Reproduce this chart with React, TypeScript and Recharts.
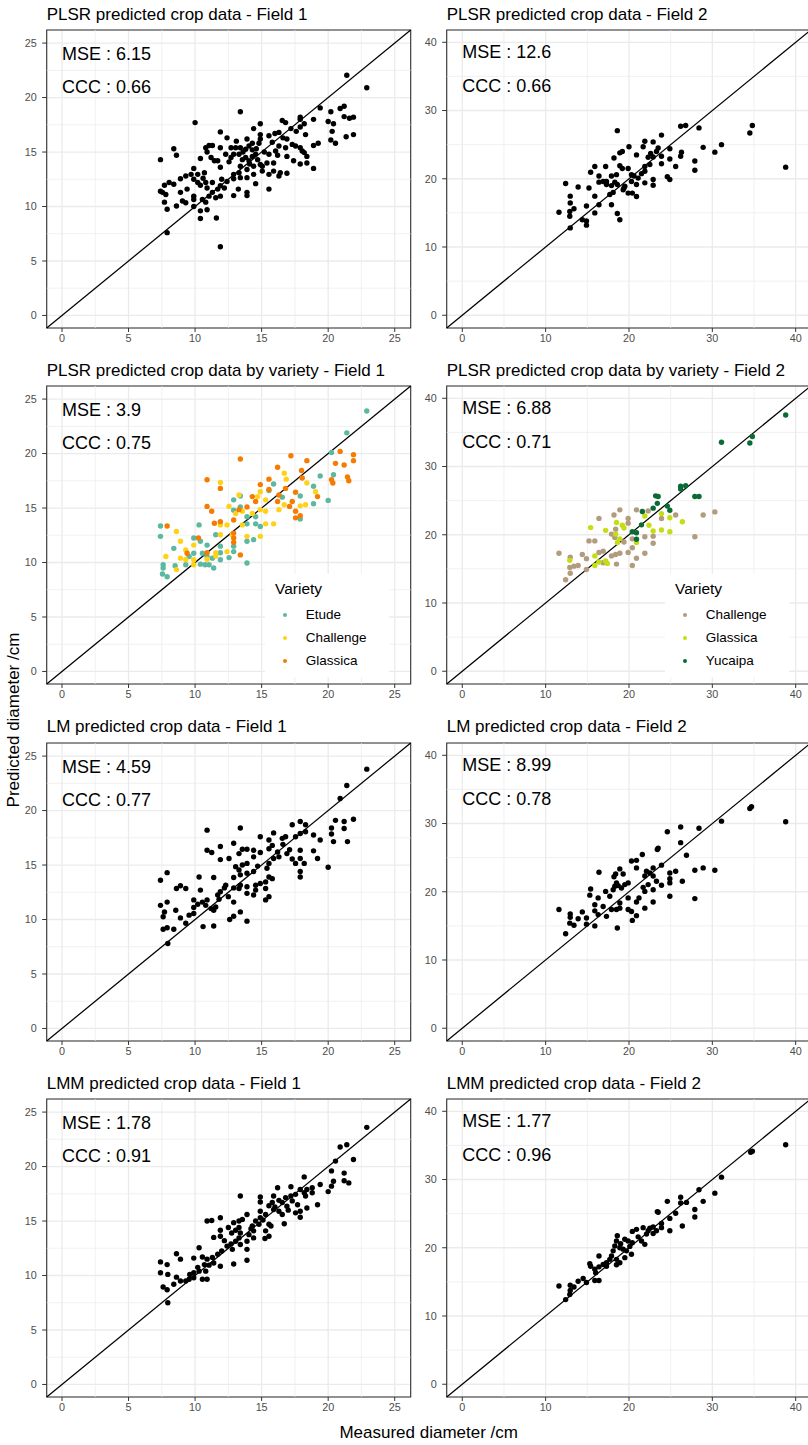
import React from 'react';
import {
  ScatterChart, Scatter, XAxis, YAxis, CartesianGrid, ReferenceLine,
  ReferenceArea, ReferenceDot, Legend,
} from 'recharts';

const FONT = '"Liberation Sans", Arial, Helvetica, sans-serif';

// ---------- axis settings ----------
const F1_TICKS = [0, 5, 10, 15, 20, 25];
const F1_MINOR = [2.5, 7.5, 12.5, 17.5, 22.5];
const F2_TICKS = [0, 10, 20, 30, 40];
const F2_MINOR = [5, 15, 25, 35];
const F1_DOMAIN: [number, number] = [-1.15, 26.2];
const F2_DOMAIN: [number, number] = [-1.87, 41.8];

// ---------- annotations ----------
const MSE = ['6.15', '12.6', '3.9', '6.88', '4.59', '8.99', '1.78', '1.77'];
const CCC = ['0.66', '0.66', '0.75', '0.71', '0.77', '0.78', '0.91', '0.96'];
const TITLES = [
  'PLSR predicted crop data - Field 1',
  'PLSR predicted crop data - Field 2',
  'PLSR predicted crop data by variety - Field 1',
  'PLSR predicted crop data by variety - Field 2',
  'LM predicted crop data - Field 1',
  'LM predicted crop data - Field 2',
  'LMM predicted crop data - Field 1',
  'LMM predicted crop data - Field 2',
];
const VARIETIES_F1 = ['Etude', 'Challenge', 'Glassica'];
const COLORS_F1 = ['#5BB8A1', '#FFD21A', '#F57C00'];
const VARIETIES_F2 = ['Challenge', 'Glassica', 'Yucaipa'];
const COLORS_F2 = ['#B39B7D', '#C4DE14', '#0A6B34'];

// ---------- data: [measured, predicted] ----------
const plsrF1 = [[21.4,22.05],[22.9,20.9],[19.4,19.05],[20.2,18.7],[20.9,19.0],[21.2,19.2],[21.2,18.25],[21.6,18.1],[21.9,18.2],[20.0,17.8],[20.4,17.6],[20.3,16.9],[20.2,16.1],[20.55,15.8],[21.35,16.4],[21.9,16.6],[18.9,18.0],[19.25,15.8],[18.9,15.6],[18.9,13.5],[17.9,18.2],[17.9,18.0],[18.2,17.6],[17.9,17.3],[18.3,16.6],[17.2,17.15],[16.55,17.9],[16.8,17.7],[16.3,16.8],[16.0,16.7],[15.55,16.5],[14.9,17.6],[14.4,17.15],[14.9,16.6],[14.9,16.2],[13.4,18.7],[11.9,16.85],[12.4,16.3],[10.0,17.7],[13.9,16.2],[14.3,15.8],[14.8,15.8],[15.8,15.9],[16.9,16.2],[17.3,15.7],[17.55,15.55],[17.9,15.4],[18.05,15.1],[18.2,14.95],[18.4,14.6],[18.4,14.0],[17.9,13.9],[17.4,14.2],[16.9,14.6],[16.8,15.4],[16.3,15.55],[16.05,15.1],[16.2,14.7],[15.55,14.8],[15.4,14.0],[15.05,13.7],[15.05,13.25],[15.55,12.95],[15.9,13.25],[16.3,12.8],[16.4,13.1],[16.9,13.05],[15.9,14.0],[14.55,14.8],[14.3,15.2],[14.05,15.55],[13.8,15.25],[13.4,15.4],[13.05,15.4],[12.7,15.4],[12.9,14.8],[12.7,14.5],[12.55,14.1],[13.3,14.8],[13.55,14.3],[13.8,14.5],[14.05,14.2],[14.3,14.6],[14.7,14.3],[14.9,13.85],[14.4,13.7],[13.9,13.4],[13.4,13.7],[13.3,13.1],[12.9,12.95],[12.9,12.55],[13.4,12.65],[13.9,12.65],[14.4,12.95],[14.55,12.1],[15.55,11.6],[13.9,11.3],[13.9,11.0],[12.9,11.0],[13.25,11.6],[12.2,11.7],[11.9,11.9],[12.0,12.5],[11.9,13.6],[11.7,14.2],[11.9,15.4],[10.9,15.0],[11.05,15.6],[11.3,15.6],[10.8,15.4],[11.2,14.5],[11.45,14.2],[10.4,14.4],[9.9,13.5],[10.2,12.95],[10.7,13.1],[10.2,12.2],[9.9,12.5],[10.4,11.95],[10.8,12.2],[10.9,11.7],[11.3,12.2],[11.3,11.3],[11.7,11.6],[11.9,10.95],[11.55,10.8],[11.05,10.95],[10.55,10.65],[10.8,10.4],[9.9,10.95],[9.9,10.0],[10.4,9.6],[10.9,9.7],[10.4,8.9],[11.6,8.95],[11.9,6.3],[7.9,7.6],[7.9,9.75],[8.6,10.05],[9.05,10.5],[9.3,10.35],[7.7,10.4],[7.55,11.3],[7.7,11.95],[8.05,12.2],[8.4,12.05],[7.4,11.4],[7.8,11.1],[8.9,12.55],[9.3,12.8],[9.7,12.95],[8.9,11.3],[9.4,11.6],[7.4,14.3],[8.4,15.3],[8.6,14.7],[9.9,10.65],[13.6,15.0],[14.6,15.3],[15.2,15.0],[16.6,16.3],[17.6,16.9],[12.3,14.8],[10.6,12.6],[12.4,12.3],[14.1,13.9],[13.1,16.0]];

const varF1Etude = [[22.9,23.9],[21.4,21.9],[20.25,20.1],[20.4,18.05],[19.4,17.95],[18.9,17.0],[18.9,15.4],[20.0,15.7],[17.9,16.1],[17.9,14.0],[16.55,16.0],[15.9,17.2],[15.55,16.6],[12.9,15.75],[13.4,16.1],[13.4,15.1],[12.9,14.8],[13.9,14.2],[13.9,13.55],[14.55,13.55],[14.9,13.3],[14.55,14.2],[13.9,11.95],[14.4,12.1],[13.9,9.95],[12.9,11.5],[12.9,11.0],[12.55,10.45],[11.9,11.5],[11.9,10.9],[11.55,12.55],[10.9,11.6],[10.4,11.95],[10.3,13.45],[9.9,12.25],[9.9,10.85],[10.55,10.85],[10.9,10.55],[11.3,10.4],[10.4,9.85],[10.75,9.8],[11.05,9.8],[11.4,9.5],[11.9,10.25],[9.55,10.55],[9.3,9.8],[8.4,11.3],[8.5,9.7],[7.4,13.35],[7.4,12.4],[7.6,9.8],[7.6,9.5],[7.55,8.95],[7.9,8.7]];
const varF1Challenge = [[11.9,17.35],[13.3,16.2],[14.9,16.5],[14.7,16.05],[15.3,15.75],[16.7,18.2],[16.85,17.65],[18.4,17.3],[19.05,16.5],[18.3,15.3],[17.9,15.2],[16.3,14.85],[16.7,15.3],[14.9,14.85],[15.3,14.7],[12.55,15.15],[13.05,14.5],[13.55,14.7],[14.3,14.5],[12.4,13.45],[11.9,13.45],[11.9,12.55],[12.8,12.55],[13.9,12.4],[14.9,12.4],[15.3,13.55],[15.9,13.55],[13.55,13.45],[12.4,11.0],[11.55,10.9],[11.55,10.6],[10.9,10.3],[9.9,9.8],[9.9,10.25],[9.3,10.25],[9.3,11.15],[8.9,11.95],[8.6,12.85],[9.9,11.6],[7.8,10.55],[8.6,9.35],[8.9,10.4]];
const varF1Glassica = [[10.9,17.6],[11.9,16.8],[13.4,19.5],[16.2,18.75],[17.2,19.8],[18.4,19.35],[18.0,18.45],[18.05,17.75],[20.9,20.2],[20.55,19.1],[21.2,18.95],[21.9,19.9],[21.9,19.35],[20.25,17.6],[20.35,17.3],[21.45,17.85],[21.55,17.5],[19.2,16.05],[17.55,16.45],[17.3,15.6],[17.1,15.15],[17.55,14.7],[17.9,14.3],[17.55,14.1],[16.3,16.2],[16.2,15.6],[16.8,16.8],[15.55,17.65],[14.9,17.15],[15.55,16.7],[14.3,16.05],[14.55,15.6],[13.9,15.1],[13.3,14.85],[12.9,13.9],[12.9,12.7],[12.9,12.25],[12.9,11.85],[13.4,10.7],[11.9,13.75],[11.45,13.6],[10.9,15.15],[11.25,14.7],[10.25,12.25],[10.9,10.9],[9.4,10.85],[7.9,13.35]];

const lmF1 = [[22.9,23.8],[21.4,22.3],[20.9,21.1],[20.55,19.1],[21.2,19.0],[21.9,19.2],[21.2,18.35],[20.25,18.4],[20.25,17.85],[20.4,17.15],[21.45,17.15],[20.0,14.8],[19.4,17.3],[18.9,17.75],[18.9,16.3],[19.2,15.6],[17.9,19.0],[18.3,18.7],[17.3,18.7],[18.3,18.05],[17.9,17.9],[17.55,17.6],[16.8,17.6],[16.55,17.45],[15.9,17.95],[14.9,17.6],[13.4,18.4],[10.9,18.2],[11.9,16.7],[12.9,17.0],[10.9,16.35],[11.25,16.15],[11.9,15.5],[12.55,15.6],[13.3,16.05],[13.55,16.45],[13.9,16.45],[14.4,16.35],[14.4,15.75],[14.9,16.15],[15.55,16.5],[15.55,17.3],[15.8,16.8],[16.2,16.2],[16.3,15.75],[16.9,16.05],[17.3,15.55],[17.55,15.15],[17.9,16.35],[17.9,15.6],[18.2,15.15],[17.9,14.4],[17.9,13.9],[15.9,15.6],[15.55,15.15],[15.4,14.7],[15.55,13.9],[15.8,13.75],[15.3,13.45],[15.3,12.85],[14.9,13.3],[14.55,13.15],[14.55,12.7],[15.55,12.1],[15.3,11.8],[14.4,12.25],[13.9,12.4],[13.9,13.0],[13.3,12.85],[13.4,13.15],[13.9,14.25],[14.4,14.4],[13.4,14.1],[13.3,14.55],[13.05,14.85],[13.55,15.0],[13.9,15.15],[12.9,13.85],[12.9,12.9],[12.5,12.1],[12.9,11.6],[12.3,13.15],[11.9,12.55],[11.7,12.25],[11.8,11.85],[11.4,13.85],[10.3,13.9],[10.4,12.7],[10.9,11.8],[10.55,11.6],[10.8,11.3],[11.2,11.0],[11.4,10.85],[11.55,11.15],[9.9,11.8],[9.9,11.1],[9.9,10.55],[9.55,10.4],[9.3,9.65],[9.3,12.85],[8.9,13.1],[8.6,12.85],[7.9,14.3],[7.4,13.6],[7.4,11.3],[7.7,10.7],[7.9,11.6],[8.55,10.85],[8.9,10.15],[7.6,10.25],[7.6,9.1],[7.9,9.25],[8.4,9.1],[7.95,7.8],[10.6,9.35],[11.4,9.4],[12.6,10.0],[12.9,10.3],[13.4,10.7],[13.9,9.85],[16.6,16.9],[17.1,16.4],[14.7,14.9],[12.2,12.9],[10.2,11.4]];

const lmmF1 = [[22.9,23.6],[20.9,21.8],[21.4,22.0],[21.9,20.65],[20.55,20.5],[20.25,19.6],[21.2,19.4],[21.2,18.7],[21.55,18.5],[20.4,18.65],[20.25,18.2],[20.0,17.7],[19.4,18.35],[19.2,16.5],[18.2,19.05],[18.8,18.05],[18.8,17.6],[18.4,17.9],[18.3,17.3],[17.9,17.9],[18.2,17.6],[17.2,18.15],[17.55,17.45],[17.2,17.3],[16.8,17.15],[17.3,16.85],[17.7,16.5],[17.9,15.9],[18.4,16.2],[17.55,15.75],[17.9,15.35],[16.2,18.05],[15.9,17.3],[16.3,16.9],[16.55,16.7],[16.9,16.35],[15.8,16.7],[15.55,16.4],[15.9,16.05],[16.3,15.9],[16.55,15.6],[16.7,14.75],[14.9,17.2],[14.9,16.75],[13.4,17.3],[14.9,15.9],[15.3,15.6],[14.9,15.3],[15.55,14.7],[15.7,14.55],[15.3,14.1],[15.55,13.6],[15.25,13.4],[14.8,14.7],[14.55,15.0],[14.3,14.55],[14.4,14.1],[14.4,13.45],[14.05,13.75],[13.9,15.6],[13.55,15.15],[13.3,15.0],[12.9,14.85],[11.9,15.3],[10.9,15.0],[11.25,15.05],[11.9,14.15],[11.9,13.6],[12.5,14.4],[12.75,13.9],[13.05,14.15],[13.3,14.4],[13.4,13.9],[13.3,13.45],[13.05,13.15],[12.7,12.9],[12.4,12.7],[12.8,12.4],[13.4,12.85],[13.9,13.15],[13.9,12.4],[11.4,13.5],[12.0,12.25],[11.7,11.95],[11.3,11.65],[11.4,11.15],[10.9,11.5],[11.05,10.95],[10.55,11.7],[10.3,12.55],[9.9,11.6],[10.7,11.0],[10.3,10.4],[10.8,10.4],[9.9,10.25],[10.2,10.75],[10.55,9.65],[10.9,9.65],[9.9,9.8],[9.55,9.65],[9.3,9.5],[8.9,9.5],[8.6,9.85],[8.4,9.2],[8.9,11.5],[8.6,12.0],[7.9,11.0],[7.95,10.1],[7.4,11.25],[7.4,10.25],[7.6,8.95],[7.9,8.7],[7.95,7.5],[12.9,11.05],[13.9,11.4],[11.9,10.85],[16.0,16.3],[17.0,16.0],[14.2,14.3],[12.2,13.2],[15.1,15.1],[9.6,10.1]];

const plsrF2 = [[38.8,21.7],[34.8,27.8],[34.5,26.7],[31.1,25.0],[30.3,23.9],[28.9,24.6],[28.4,27.45],[26.8,27.8],[26.2,27.7],[27.9,22.6],[27.9,21.25],[26.3,23.9],[26.2,23.3],[24.9,24.4],[24.9,22.9],[25.6,21.8],[24.6,20.3],[24.9,19.9],[23.9,26.4],[22.9,25.4],[21.9,25.5],[21.7,24.7],[23.5,24.5],[23.9,23.3],[22.9,23.2],[22.3,23.15],[22.5,22.1],[21.9,21.8],[23.9,22.2],[21.9,21.1],[21.5,20.75],[20.9,23.5],[20.0,24.7],[19.2,24.0],[18.9,23.8],[18.2,23.05],[18.6,27.05],[18.9,21.9],[19.2,21.5],[19.9,21.5],[20.3,20.6],[20.6,20.4],[21.1,20.1],[20.9,19.15],[20.3,19.6],[21.9,19.4],[22.9,19.9],[22.9,19.05],[19.5,18.9],[19.3,18.4],[19.9,17.9],[20.4,17.9],[20.9,17.4],[18.5,20.6],[18.3,19.5],[18.6,19.15],[17.3,19.6],[17.3,19.15],[16.9,19.6],[16.4,20.4],[16.4,19.5],[17.2,21.8],[15.9,21.8],[15.4,20.95],[17.9,20.4],[17.9,19.0],[17.7,17.7],[18.1,18.0],[17.9,16.2],[16.4,16.2],[15.9,17.45],[14.9,16.0],[15.9,15.0],[13.9,18.8],[12.4,19.3],[12.95,17.45],[12.95,16.45],[13.4,15.6],[12.9,15.2],[12.9,14.5],[11.6,15.1],[12.95,12.8],[14.4,14.0],[14.9,13.8],[14.9,13.2],[15.2,18.65],[18.6,14.9],[18.9,14.0],[19.4,18.65],[23.3,24.0],[22.6,23.7]];

const varF2Challenge = [[30.3,23.35],[28.9,22.9],[27.9,19.7],[25.6,22.9],[23.9,22.4],[20.9,23.65],[22.3,23.5],[18.9,23.65],[18.2,22.9],[16.4,22.4],[19.9,22.4],[19.9,21.7],[18.4,20.8],[17.9,20.1],[18.3,19.6],[19.4,18.95],[20.4,19.4],[20.4,18.1],[19.9,17.4],[18.9,17.3],[18.4,17.1],[17.9,16.9],[16.9,17.6],[16.4,17.4],[15.2,19.1],[15.9,19.1],[14.4,17.1],[14.9,16.5],[12.95,16.7],[11.6,17.3],[12.9,15.2],[13.4,15.4],[13.9,15.5],[12.95,14.35],[12.4,13.4],[14.9,14.9],[18.5,15.7],[20.4,15.5],[20.9,16.55],[21.9,17.3],[22.9,18.75],[22.9,19.8],[21.9,19.7],[16.9,15.9]];
const varF2Glassica = [[15.4,21.05],[17.2,20.65],[18.4,20.1],[19.2,21.4],[18.5,21.8],[18.9,19.4],[18.6,18.85],[20.9,18.85],[21.9,22.75],[22.4,21.4],[22.9,20.55],[23.9,20.7],[23.9,23.1],[24.9,22.5],[24.9,20.45],[26.4,21.9],[15.9,16.9],[15.9,15.5],[16.4,16.0],[17.2,16.15],[17.4,15.8],[12.9,16.25],[19.4,21.0]];
const varF2Yucaipa = [[38.8,37.55],[34.8,34.4],[34.5,33.45],[31.1,33.55],[26.2,27.1],[26.8,27.2],[26.2,26.7],[27.9,25.6],[28.4,25.6],[23.2,25.7],[23.5,25.6],[23.4,24.6],[22.9,23.9],[21.6,23.4],[24.6,24.2],[24.9,23.6],[21.5,21.45],[20.4,20.45],[20.9,20.3],[20.9,19.35]];

const lmF2 = [[38.8,30.25],[34.7,32.45],[34.5,32.2],[31.1,30.35],[28.4,29.3],[26.2,29.5],[24.6,28.8],[26.2,27.2],[26.9,25.35],[28.9,23.5],[27.9,23.15],[27.9,19.0],[30.3,23.15],[26.4,21.55],[25.6,23.0],[24.9,22.75],[24.9,21.9],[24.9,21.3],[24.9,19.35],[23.9,23.9],[23.5,26.4],[23.9,20.95],[22.9,23.5],[22.9,22.3],[23.3,21.55],[22.5,22.75],[22.1,23.0],[21.9,22.3],[22.3,21.05],[21.7,20.65],[21.9,20.05],[22.9,20.3],[22.9,18.5],[21.9,17.6],[21.2,19.1],[20.9,18.5],[20.9,16.5],[20.4,15.8],[19.9,17.4],[20.3,17.1],[21.6,25.45],[20.9,24.6],[20.3,24.5],[20.9,23.5],[19.9,21.3],[19.5,21.05],[19.3,22.6],[18.9,23.35],[18.4,22.6],[18.2,22.2],[18.5,21.3],[18.3,20.8],[18.1,20.3],[19.1,20.55],[19.9,19.1],[18.9,18.35],[18.9,17.6],[18.5,17.4],[17.9,17.4],[17.7,19.35],[17.2,20.05],[16.9,17.85],[17.3,16.4],[16.3,19.1],[16.4,22.85],[15.9,18.1],[15.9,17.2],[16.3,16.65],[15.4,20.4],[15.3,19.5],[14.9,16.15],[14.4,17.05],[14.9,15.25],[15.9,15.0],[13.9,16.05],[12.95,16.75],[12.95,16.25],[12.9,15.4],[13.4,15.1],[11.6,17.4],[12.4,13.85],[18.6,14.7],[18.7,20.9],[23.4,26.2]];

const lmmF2 = [[38.8,35.1],[34.6,34.0],[34.8,34.15],[31.1,30.35],[30.3,28.0],[28.4,28.5],[28.9,26.8],[27.9,25.6],[27.9,24.5],[26.9,26.65],[26.2,27.4],[26.2,26.55],[24.6,26.8],[25.6,25.05],[24.9,24.3],[24.9,22.5],[26.4,23.2],[23.5,25.2],[23.9,23.55],[23.9,22.95],[22.9,23.05],[23.3,22.5],[22.9,22.1],[22.5,22.85],[22.3,22.5],[22.1,22.0],[21.7,22.95],[20.9,22.7],[20.4,22.4],[21.1,21.6],[21.9,20.5],[21.5,21.0],[20.4,20.75],[19.9,21.0],[19.5,21.25],[18.6,21.75],[18.5,21.0],[18.3,20.25],[18.9,20.0],[19.3,19.8],[19.7,19.55],[20.3,19.05],[18.1,19.55],[17.9,18.8],[18.5,18.3],[18.9,17.8],[18.5,17.5],[17.7,18.3],[17.3,17.8],[17.3,17.3],[16.9,17.55],[16.4,18.8],[16.4,17.2],[15.9,16.85],[16.0,16.35],[15.4,17.3],[15.3,17.65],[15.9,15.2],[16.4,15.2],[14.9,14.9],[14.5,15.5],[13.9,15.1],[13.4,14.25],[12.95,14.5],[12.95,13.75],[12.9,13.15],[12.4,12.4],[11.6,14.4],[19.5,18.55],[23.4,25.3],[19.0,20.6],[20.1,20.2]];

// ---------- helpers ----------
const toXY = (a: number[][]) => a.map(([x, y]) => ({ x, y }));

const dotShape = (color: string, r: number) => (p: any) => (
  <circle cx={p.cx} cy={p.cy} r={r} fill={color} />
);

const textShape = (txt: string, fs: number) => (p: any) => (
  <text x={p.cx} y={p.cy + 0.358 * fs} fontSize={fs} fontFamily={FONT} fill="#000">{txt}</text>
);

// layout
const PLOT_W = 364;
const PLOT_H = 298;
const COL_LEFT = [46.7, 446.7];
const ROW_TOP0 = 30;
const ROW_PITCH = 356.3;
const YW = 46.7;

type Series = { name: string; data: number[][]; color: string };

function VarietyLegend({ names, colors }: { names: string[]; colors: string[] }) {
  return (
    <div style={{ position: 'relative', width: 124, height: 103, background: '#fff', fontFamily: FONT, color: '#000' }}>
      <div style={{ position: 'absolute', left: 10.3, top: 15.5 - 8.8, fontSize: 15.5, lineHeight: '18px', whiteSpace: 'nowrap' }}>Variety</div>
      {names.map((n, i) => (
        <React.Fragment key={n}>
          <div style={{ position: 'absolute', left: 20.5 - 2.3, top: 41.5 + 23 * i - 2.3, width: 4.6, height: 4.6, borderRadius: '50%', background: colors[i] }} />
          <div style={{ position: 'absolute', left: 41, top: 41.5 + 23 * i - 7.9, fontSize: 13.5, lineHeight: '16px', whiteSpace: 'nowrap' }}>{n}</div>
        </React.Fragment>
      ))}
    </div>
  );
}

function Panel({ idx, series, legend }: { idx: number; series: Series[]; legend?: { names: string[]; colors: string[] } }) {
  const col = idx % 2;
  const row = Math.floor(idx / 2);
  const f1 = col === 0;
  const domain = f1 ? F1_DOMAIN : F2_DOMAIN;
  const ticks = f1 ? F1_TICKS : F2_TICKS;
  const minor = f1 ? F1_MINOR : F2_MINOR;
  const annY = f1 ? [24, 21] : [38.7, 33.7];
  const plotLeft = COL_LEFT[col];
  const plotTop = ROW_TOP0 + ROW_PITCH * row;
  const chartLeft = plotLeft - YW;
  const chartTop = plotTop - 30;
  const W = YW + PLOT_W + 6;
  const H = 30 + PLOT_H + 30;
  const tickStyle = { fontSize: 10.8, fill: '#4D4D4D', fontFamily: FONT };
  return (
    <>
      <div style={{ position: 'absolute', left: plotLeft, top: plotTop - 10 - 14.4, fontFamily: FONT, fontSize: 17, lineHeight: '17px', whiteSpace: 'nowrap', color: '#000' }}>
        {TITLES[idx]}
      </div>
      <div style={{ position: 'absolute', left: chartLeft, top: chartTop }}>
        <ScatterChart width={W} height={H} margin={{ top: 30, right: 6, bottom: 0, left: 0 }}>
          <CartesianGrid stroke="#EBEBEB" strokeWidth={1.3} />
          {minor.map((v) => (
            <ReferenceLine key={'mx' + v} x={v} stroke="#EBEBEB" strokeWidth={0.7} />
          ))}
          {minor.map((v) => (
            <ReferenceLine key={'my' + v} y={v} stroke="#EBEBEB" strokeWidth={0.7} />
          ))}
          <XAxis
            type="number" dataKey="x" domain={domain} ticks={ticks} allowDataOverflow interval={0}
            height={30} axisLine={false} tickSize={4} tickMargin={2}
            tickLine={{ stroke: '#333333' }} tick={tickStyle}
          />
          <YAxis
            type="number" dataKey="y" domain={domain} ticks={ticks} allowDataOverflow interval={0}
            width={YW} axisLine={false} tickSize={4.5} tickMargin={5.5}
            tickLine={{ stroke: '#333333' }} tick={tickStyle}
          />
          <ReferenceLine
            segment={[{ x: domain[0], y: domain[0] }, { x: domain[1], y: domain[1] }]}
            stroke="#000" strokeWidth={1.25} ifOverflow="visible"
          />
          {series.map((s) => (
            <Scatter key={s.name} name={s.name} data={toXY(s.data)} fill={s.color}
              isAnimationActive={false} shape={dotShape(s.color, 2.7)} />
          ))}
          <ReferenceArea x1={domain[0]} x2={domain[1]} y1={domain[0]} y2={domain[1]}
            fill="none" fillOpacity={0} stroke="#333333" strokeWidth={1.1} ifOverflow="visible" />
          <ReferenceDot x={0} y={annY[0]} r={0} ifOverflow="visible" shape={textShape('MSE : ' + MSE[idx], 18)} />
          <ReferenceDot x={0} y={annY[1]} r={0} ifOverflow="visible" shape={textShape('CCC : ' + CCC[idx], 18)} />
          {legend && (
            <Legend
              layout="vertical" align="center" verticalAlign="middle"
              wrapperStyle={{ left: plotLeft + 218 - chartLeft, top: plotTop + 187.3 - chartTop, width: 124, height: 103 }}
              content={() => <VarietyLegend names={legend.names} colors={legend.colors} />}
            />
          )}
        </ScatterChart>
      </div>
    </>
  );
}

export default function App() {
  return (
    <div style={{ position: 'absolute', left: 0, top: 0, width: 808, height: 1445, overflow: 'hidden', background: '#fff' }}>
      <Panel idx={0} series={[{ name: 'pred', data: plsrF1, color: '#000' }]} />
      <Panel idx={1} series={[{ name: 'pred', data: plsrF2, color: '#000' }]} />
      <Panel idx={2}
        series={[
          { name: VARIETIES_F1[0], data: varF1Etude, color: COLORS_F1[0] },
          { name: VARIETIES_F1[1], data: varF1Challenge, color: COLORS_F1[1] },
          { name: VARIETIES_F1[2], data: varF1Glassica, color: COLORS_F1[2] },
        ]}
        legend={{ names: VARIETIES_F1, colors: COLORS_F1 }}
      />
      <Panel idx={3}
        series={[
          { name: VARIETIES_F2[0], data: varF2Challenge, color: COLORS_F2[0] },
          { name: VARIETIES_F2[1], data: varF2Glassica, color: COLORS_F2[1] },
          { name: VARIETIES_F2[2], data: varF2Yucaipa, color: COLORS_F2[2] },
        ]}
        legend={{ names: VARIETIES_F2, colors: COLORS_F2 }}
      />
      <Panel idx={4} series={[{ name: 'pred', data: lmF1, color: '#000' }]} />
      <Panel idx={5} series={[{ name: 'pred', data: lmF2, color: '#000' }]} />
      <Panel idx={6} series={[{ name: 'pred', data: lmmF1, color: '#000' }]} />
      <Panel idx={7} series={[{ name: 'pred', data: lmmF2, color: '#000' }]} />
      <div style={{ position: 'absolute', left: 428.7 - 200, top: 1433 - 10, width: 400, textAlign: 'center', fontFamily: FONT, fontSize: 17, lineHeight: '20px', color: '#000' }}>
        Measured diameter /cm
      </div>
      <div style={{ position: 'absolute', left: 14 - 150, top: 720 - 10, width: 300, height: 20, textAlign: 'center', fontFamily: FONT, fontSize: 17, lineHeight: '20px', color: '#000', transform: 'rotate(-90deg)', transformOrigin: '50% 50%' }}>
        Predicted diameter /cm
      </div>
    </div>
  );
}
